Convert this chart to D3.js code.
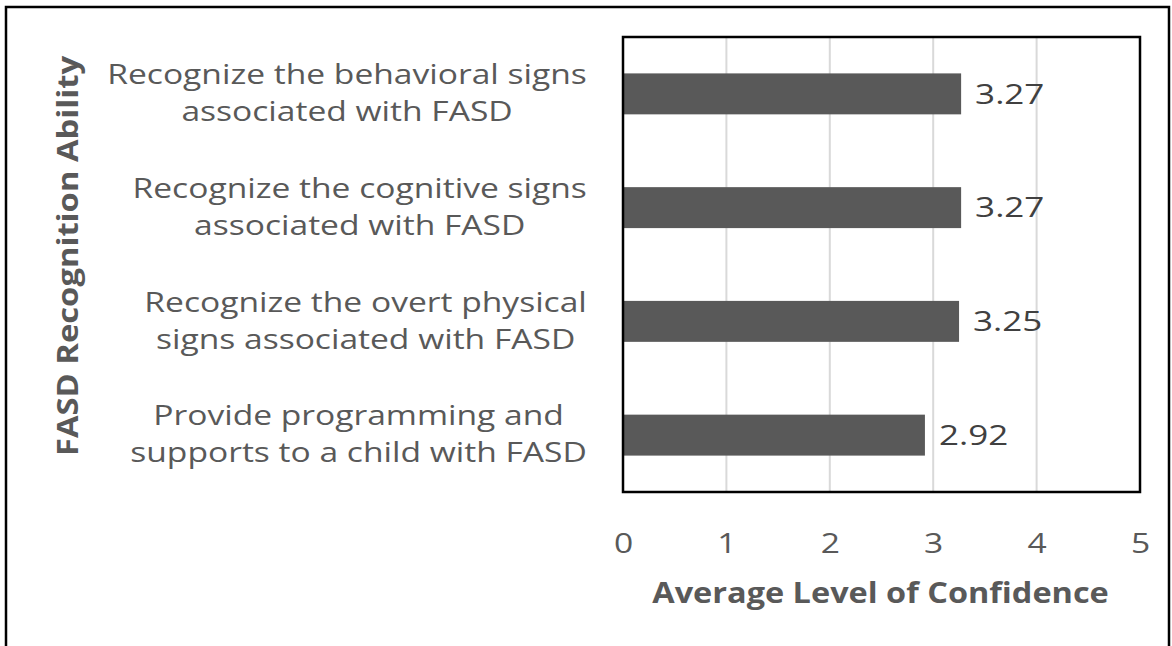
<!DOCTYPE html>
<html>
<head>
<meta charset="utf-8">
<script src="https://cdn.jsdelivr.net/npm/d3@7"></script>
<style>
  html, body { margin: 0; padding: 0; background: #fff; }
  svg { display: block; }
  text { font-family: "Open Sans", "Noto Sans", sans-serif; }
</style>
</head>
<body>
<svg id="chart" width="1172" height="646"></svg>
<script>
// Data (top to bottom)
const categories = [
    ["Recognize the behavioral signs", "associated with FASD"],
    ["Recognize the cognitive signs", "associated with FASD"],
    ["Recognize the overt physical", "signs associated with FASD"],
    ["Provide programming and", "supports to a child with FASD"]
];
const values = [3.27, 3.27, 3.25, 2.92];
const xTicks = [0, 1, 2, 3, 4, 5];
const xTitle = "Average Level of Confidence";
const yTitle = "FASD Recognition Ability";

const svg = d3.select("#chart");
const plot = { left: 623, right: 1140, top: 37, bottom: 492 };
const grey = "#595959";
// the source picture is a bit stretched sideways, so text gets widened too
const stretch = 1.2;

// outer frame (no bottom edge, like the cropped original)
svg.append("path")
    .attr("d", "M6,646 V7 H1169 V646")
    .attr("fill", "none")
    .attr("stroke", "#000")
    .attr("stroke-width", 2.5);

const x = d3.scaleLinear().domain([0, 5]).range([plot.left, plot.right]);
const y = d3.scaleBand()
    .domain(d3.range(categories.length))
    .range([plot.top, plot.bottom])
    .paddingInner(0.64)
    .paddingOuter(0.32);

// gridlines
svg.append("g")
    .selectAll("line")
    .data(xTicks.slice(1, -1))
    .join("line")
    .attr("x1", d => x(d)).attr("x2", d => x(d))
    .attr("y1", plot.top).attr("y2", plot.bottom)
    .attr("stroke", "#d9d9d9")
    .attr("stroke-width", 2);

// bars
svg.append("g")
    .selectAll("rect")
    .data(values)
    .join("rect")
    .attr("x", x(0))
    .attr("y", (d, i) => y(i))
    .attr("width", d => x(d) - x(0))
    .attr("height", y.bandwidth())
    .attr("fill", grey);

// value labels
svg.append("g")
    .selectAll("text")
    .data(values)
    .join("text")
    .attr("transform", (d, i) => `translate(${x(d) + 14},${y(i) + y.bandwidth() / 2}) scale(1.25,1)`)
    .attr("dy", "0.35em")
    .attr("font-size", 28)
    .attr("fill", "#404040")
    .text(d => d.toFixed(2));

// plot border
svg.append("rect")
    .attr("x", plot.left).attr("y", plot.top)
    .attr("width", plot.right - plot.left)
    .attr("height", plot.bottom - plot.top)
    .attr("fill", "none")
    .attr("stroke", "#000")
    .attr("stroke-width", 2.5);

// x axis tick labels
const xAxis = svg.append("g")
    .attr("transform", `translate(0,${plot.bottom + 41})`)
    .call(d3.axisBottom(x).tickValues(xTicks).tickFormat(d3.format("d")).tickSize(0).tickPadding(0));
xAxis.select(".domain").remove();
xAxis.selectAll("text")
    .attr("font-size", 28)
    .attr("font-family", "'Open Sans', sans-serif")
    .attr("fill", grey)
    .attr("transform", `scale(${stretch},1)`);

// category labels: right-aligned block, lines centred inside it
const labelRight = 587;
const lineGap = 37;
categories.forEach((lines, i) => {
    const g = svg.append("g");
    const cy = y(i) + y.bandwidth() / 2;
    const texts = lines.map((s, k) => g.append("text")
        .attr("dy", "0.35em")
        .attr("text-anchor", "middle")
        .attr("font-size", 28)
        .attr("fill", grey)
        .text(s));
    const w = d3.max(texts, t => t.node().getComputedTextLength()) * stretch;
    texts.forEach((t, k) => t.attr("transform",
        `translate(${labelRight - w / 2},${cy + (k - (lines.length - 1) / 2) * lineGap - 1}) scale(${stretch},1)`));
});

// axis titles
svg.append("text")
    .attr("transform", `translate(${(plot.left + plot.right) / 2 - 1},593) scale(1.16,1)`)
    .attr("dy", "0.35em")
    .attr("text-anchor", "middle")
    .attr("font-size", 28)
    .attr("font-weight", "bold")
    .attr("fill", grey)
    .text(xTitle);

svg.append("text")
    .attr("transform", `translate(68,256) rotate(-90) scale(1.17,1)`)
    .attr("dy", "0.35em")
    .attr("text-anchor", "middle")
    .attr("font-size", 28)
    .attr("font-weight", "bold")
    .attr("fill", grey)
    .text(yTitle);
</script>
</body>
</html>
